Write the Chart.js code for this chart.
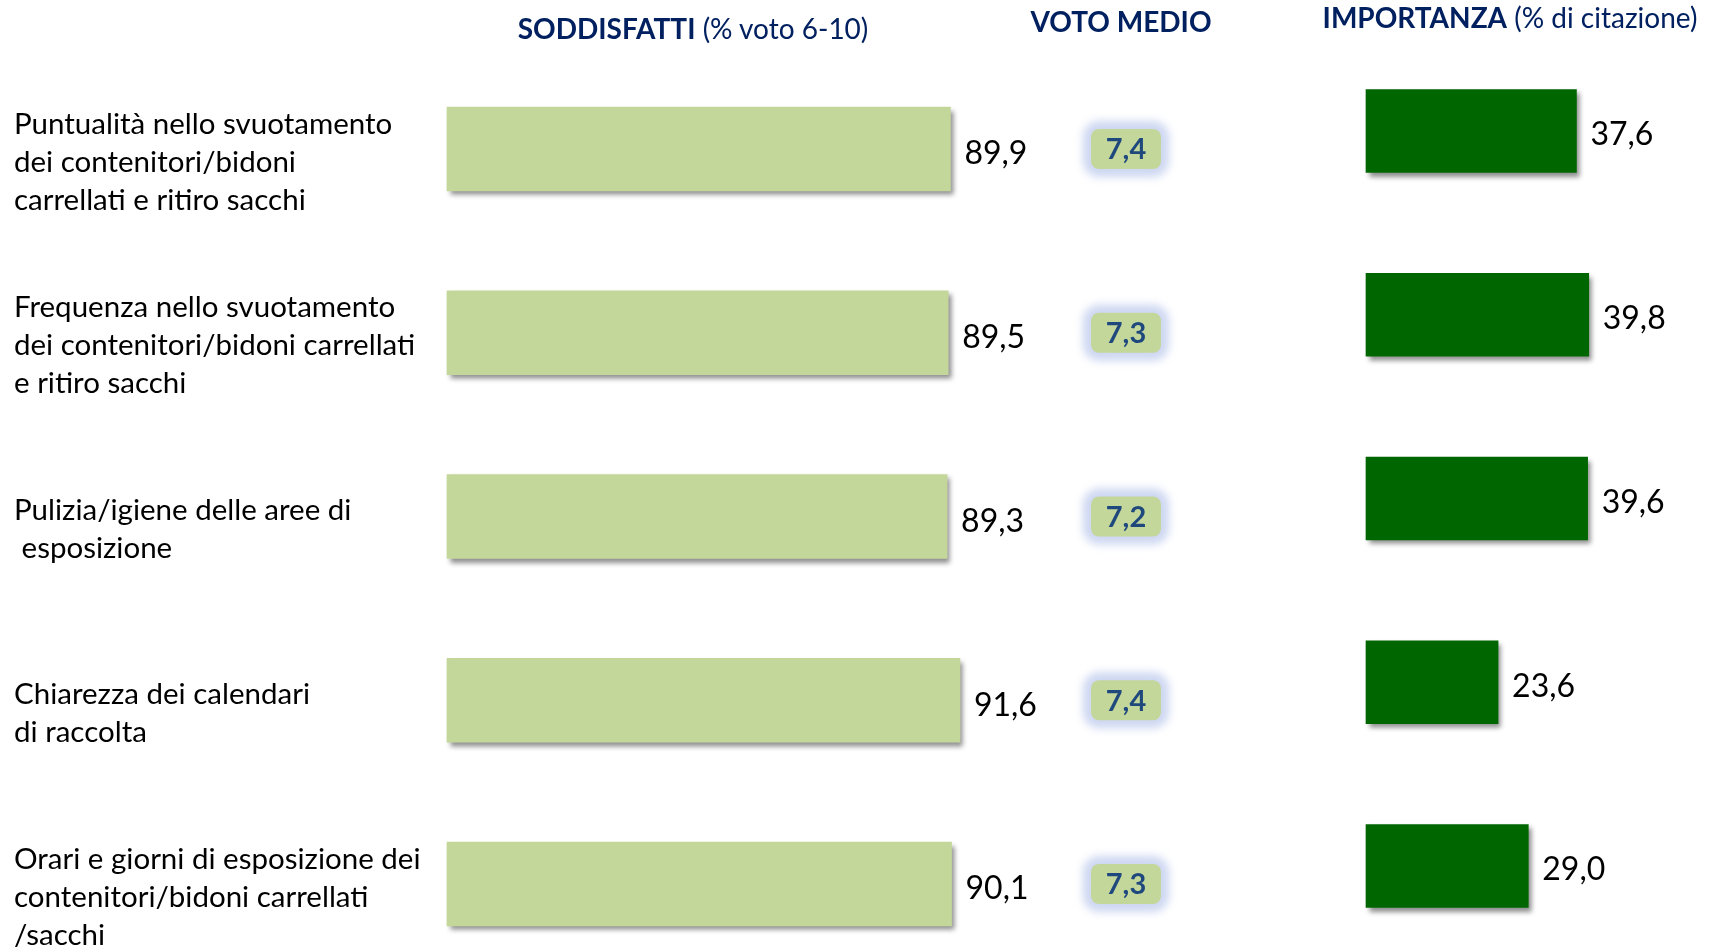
<!DOCTYPE html>
<html>
<head>
<meta charset="utf-8">
<script src="https://cdn.jsdelivr.net/npm/chart.js@4.4.0/dist/chart.umd.min.js"></script>
<style>
html,body{margin:0;padding:0;background:#fff;overflow:hidden;width:1713px;height:948px;}
#wrap{position:relative;width:1713px;height:948px;}
canvas{position:absolute;top:0;}
.hdr{position:absolute;color:#002060;font-family:Lato,sans-serif;font-size:28px;white-space:nowrap;transform:translate(-50%,-50%);line-height:1;}
.hdr b{font-weight:700;}
</style>
</head>
<body>
<div id="wrap">
  <canvas id="cA" width="1231" height="948" style="left:0"></canvas>
  <canvas id="cB" width="513" height="948" style="left:1200px"></canvas>
  <div class="hdr" style="left:693px;top:28px"><b>SODDISFATTI</b> (% voto 6-10)</div>
  <div class="hdr" style="left:1121px;top:21px"><b>VOTO MEDIO</b></div>
  <div class="hdr" style="left:1510px;top:17px"><b>IMPORTANZA</b> (% di citazione)</div>
</div>
<script>
// ---- data ----
const categories = [
  ['Puntualità nello svuotamento', 'dei contenitori/bidoni', 'carrellati e ritiro sacchi'],
  ['Frequenza nello svuotamento', 'dei contenitori/bidoni carrellati', 'e ritiro sacchi'],
  ['Pulizia/igiene delle aree di', ' esposizione'],
  ['Chiarezza dei calendari', 'di raccolta'],
  ['Orari e giorni di esposizione dei', 'contenitori/bidoni carrellati', '/sacchi']
];
const soddisfatti = [89.9, 89.5, 89.3, 91.6, 90.1];
const votoMedio = [7.4, 7.3, 7.2, 7.4, 7.3];
const importanza = [37.6, 39.8, 39.6, 23.6, 29.0];

// ---- helpers ----
const fmt = v => v.toFixed(1).replace('.', ',');
const FONT = 'Lato, "Open Sans", sans-serif';

const shadowPlugin = {
  id: 'barShadow',
  beforeDatasetsDraw(chart) {
    const c = chart.ctx;
    c.save();
    c.shadowColor = 'rgba(0,0,0,0.45)';
    c.shadowBlur = 5;
    c.shadowOffsetX = 3;
    c.shadowOffsetY = 4;
  },
  afterDatasetsDraw(chart) { chart.ctx.restore(); }
};

const valueLabels = {
  id: 'valueLabels',
  afterDraw(chart, args, opts) {
    const ctx = chart.ctx;
    const meta = chart.getDatasetMeta(0);
    const data = chart.data.datasets[0].data;
    ctx.save();
    ctx.font = `${opts.size}px ${FONT}`;
    ctx.fillStyle = '#000';
    ctx.textAlign = 'left';
    ctx.textBaseline = 'middle';
    meta.data.forEach((bar, i) => {
      ctx.fillText(fmt(data[i]), bar.x + opts.gap, bar.y + opts.dy);
    });
    ctx.restore();
  }
};

const votoPlugin = {
  id: 'votoBoxes',
  afterDraw(chart, args, opts) {
    const ctx = chart.ctx;
    const meta = chart.getDatasetMeta(0);
    const w = opts.w, h = opts.h, r = opts.r;
    ctx.save();
    votoMedio.forEach((v, i) => {
      const cy = meta.data[i].y;
      const cx = opts.x;
      const x0 = cx - w / 2, y0 = cy - h / 2;
      // soft glow
      ctx.save();
      ctx.filter = 'blur(4px)';
      ctx.fillStyle = '#cdd7f1';
      ctx.beginPath(); ctx.roundRect(x0 - 8, y0 - 8, w + 16, h + 16, r + 8); ctx.fill();
      ctx.restore();
      // box
      ctx.fillStyle = '#c4d79b';
      ctx.beginPath(); ctx.roundRect(x0, y0, w, h, r); ctx.fill();
      ctx.fillStyle = '#1f497d';
      ctx.font = `bold ${opts.size}px ${FONT}`;
      ctx.textAlign = 'center';
      ctx.textBaseline = 'middle';
      ctx.fillText(fmt(v), cx, cy + 1);
    });
    ctx.restore();
  }
};

// ---- left chart: soddisfatti + voto medio ----
new Chart(document.getElementById('cA'), {
  type: 'bar',
  data: {
    labels: categories,
    datasets: [{ data: soddisfatti, backgroundColor: '#c4d79b', barThickness: 84, borderWidth: 0, clip: false }]
  },
  plugins: [shadowPlugin, valueLabels, votoPlugin],
  options: {
    indexAxis: 'y',
    responsive: false,
    animation: false,
    devicePixelRatio: 1,
    layout: { padding: { left: 14, top: 149, bottom: 64, right: 0 } },
    plugins: {
      legend: { display: false },
      tooltip: { enabled: false },
      valueLabels: { size: 32, gap: 14, dy: 5 },
      votoBoxes: { x: 1126, w: 70, h: 40, r: 8, size: 29 }
    },
    scales: {
      x: { display: false, min: 0, max: 140 },
      y: {
        offset: false,
        grid: { display: false },
        border: { display: false },
        ticks: {
          crossAlign: 'far',
          color: '#000',
          padding: 0,
          labelOffset: 13,
          font: { family: FONT, size: 29.5, lineHeight: '38px' }
        },
        afterFit(s) { s.width = 433; }
      }
    }
  }
});

// ---- right chart: importanza ----
new Chart(document.getElementById('cB'), {
  type: 'bar',
  data: {
    labels: categories,
    datasets: [{ data: importanza, backgroundColor: '#006600', barThickness: 83, borderWidth: 0, clip: false }]
  },
  plugins: [shadowPlugin, valueLabels],
  options: {
    indexAxis: 'y',
    responsive: false,
    animation: false,
    devicePixelRatio: 1,
    layout: { padding: { left: 166, top: 131, bottom: 82, right: 0 } },
    plugins: {
      legend: { display: false },
      tooltip: { enabled: false },
      valueLabels: { size: 32, gap: 14, dy: 4 }
    },
    scales: {
      x: { display: false, min: 0, max: 62 },
      y: { display: false, offset: false }
    }
  }
});
</script>
</body>
</html>
